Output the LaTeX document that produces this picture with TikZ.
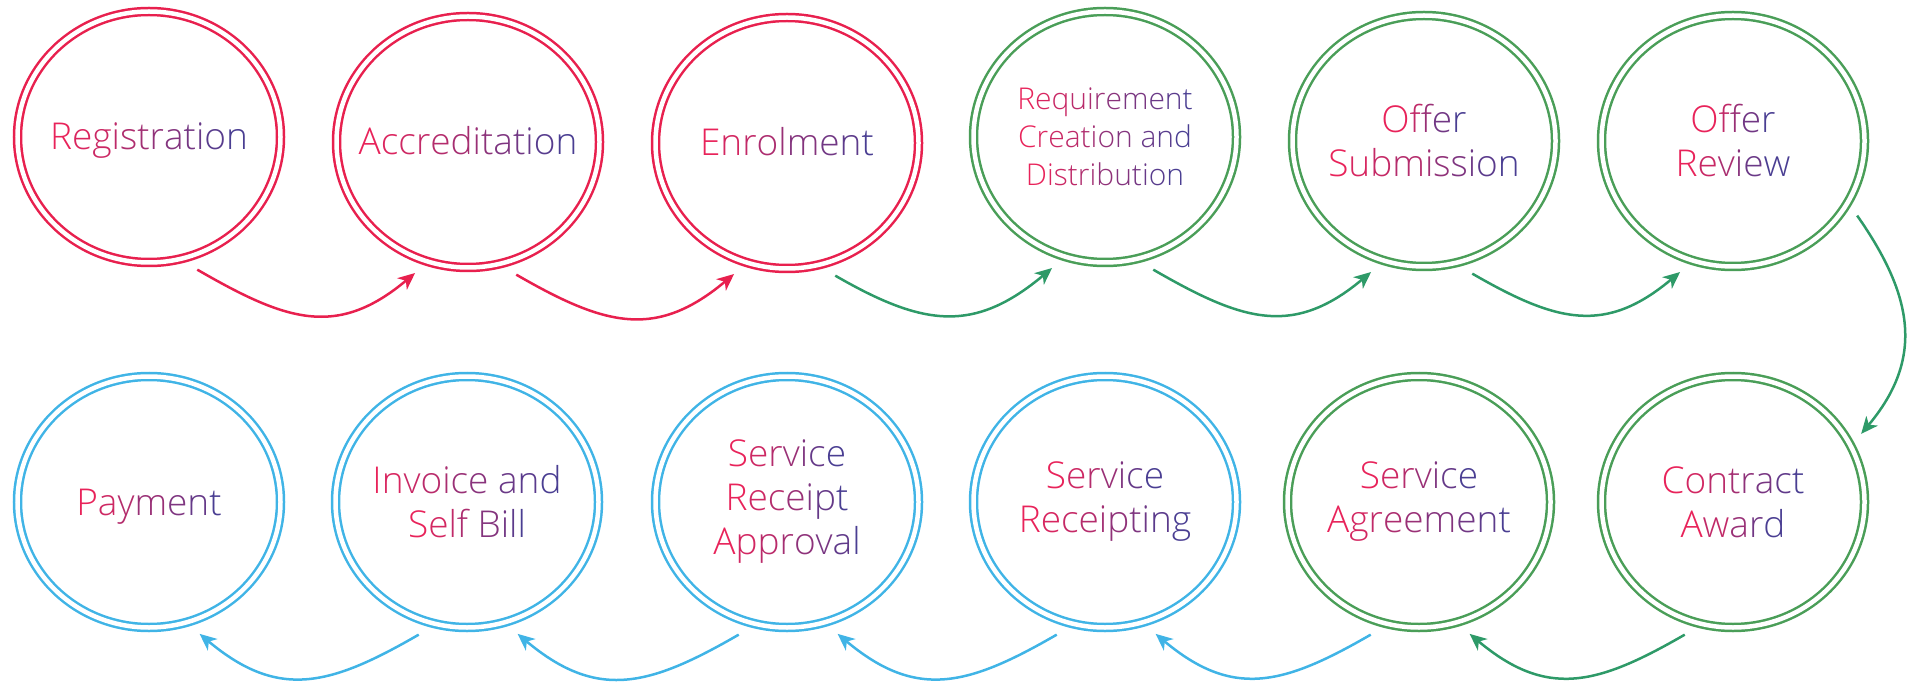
\documentclass[tikz,border=0pt]{standalone}
\usepackage{fontspec}
\IfFontExistsTF{Open Sans Light}{\setmainfont{Open Sans Light}}{\setmainfont{Open Sans}}
\usetikzlibrary{arrows.meta,shapes.geometric}

\definecolor{stagered}{HTML}{E8204E}
\definecolor{stagegreen}{HTML}{4A9E58}
\definecolor{flowgreen}{HTML}{2E9A68}
\definecolor{stageblue}{HTML}{40B4E6}
\definecolor{gradA}{HTML}{E8235A}
\definecolor{gradB}{HTML}{4A3E92}

% one line of text, coloured letter by letter from gradA to gradB
\ExplSyntaxOn
\int_new:N \l__grad_n_int
\int_new:N \l__grad_i_int
\cs_new_protected:Npn \gradline #1
  {
    \int_set:Nn \l__grad_n_int { \str_count:n {#1} - 1 }
    \int_zero:N \l__grad_i_int
    \str_map_inline:nn {#1}
      {
        \str_if_eq:nnTF {##1} { ~ }
          { \c_space_tl }
          {
            \use:x
              {
                \exp_not:N \textcolor
                  { gradB ! \int_eval:n { 100 * \l__grad_i_int / \l__grad_n_int } ! gradA }
                  { \exp_not:n {##1} }
              }
          }
        \int_incr:N \l__grad_i_int
      }
  }
\ExplSyntaxOff

\tikzset{
  stage/.style={ellipse, draw=#1, double=white, double distance=4.5pt, line width=2.5pt,
    minimum width=263pt, minimum height=251pt, inner sep=-20pt, outer sep=15pt,
    align=center, font=\fontsize{37}{44}\selectfont},
  oneline/.style={text height=26pt, text depth=0pt},
  flow/.style={draw=#1, line width=2.5pt, -{Stealth[length=17pt,width=15pt,inset=5pt]}},
}

\begin{document}
\begin{tikzpicture}[x=1pt,y=1pt]
		%%%%% START %%%%%
		\useasboundingbox (0,0) rectangle (1911,681);
		
		\node[stage=stagered, oneline] (reg) at (149,544) {\gradline{Registration}};
		\node[stage=stagered, oneline] (acc) at (468,539) {\gradline{Accreditation}};
		\node[stage=stagered, oneline] (enr) at (787,538) {\gradline{Enrolment}};
		\node[stage=stagegreen, font=\fontsize{30}{38}\selectfont] (req) at (1105,544)
			{\gradline{Requirement}\\\gradline{Creation and}\\\gradline{Distribution}};
		\node[stage=stagegreen] (offsub) at (1424,540) {\gradline{Offer}\\\gradline{Submission}};
		\node[stage=stagegreen] (offrev) at (1733,540) {\gradline{Offer}\\\gradline{Review}};
		
		\node[stage=stagegreen] (award) at (1733,179) {\gradline{Contract}\\\gradline{Award}};
		\node[stage=stagegreen] (agree) at (1419,179) {\gradline{Service}\\\gradline{Agreement}};
		\node[stage=stageblue] (rcpt) at (1105,179) {\gradline{Service}\\\gradline{Receipting}};
		\node[stage=stageblue] (rcptok) at (787,179) {\gradline{Service}\\\gradline{Receipt}\\\gradline{Approval}};
		\node[stage=stageblue] (invoice) at (467,179) {\gradline{Invoice and}\\\gradline{Self Bill}};
		\node[stage=stageblue, oneline] (pay) at (149,179) {\gradline{Payment}};
		
		\draw[flow=stagered] (reg.-70) to[out=-30, in=-140, looseness=1.2] (acc.-112);
		\draw[flow=stagered] (acc.-70) to[out=-30, in=-140, looseness=1.2] (enr.-112);
		\draw[flow=flowgreen] (enr.-70) to[out=-30, in=-140, looseness=1.2] (req.-112);
		\draw[flow=flowgreen] (req.-70) to[out=-30, in=-140, looseness=1.2] (offsub.-112);
		\draw[flow=flowgreen] (offsub.-70) to[out=-30, in=-140, looseness=1.2] (offrev.-112);
		
		\draw[flow=flowgreen] (offrev.-31) to[out=-55, in=50, looseness=1.15] (award.28);
		
		\draw[flow=flowgreen] (award.-110) to[out=-150, in=-40, looseness=1.2] (agree.-69);
		\draw[flow=stageblue] (agree.-110) to[out=-150, in=-40, looseness=1.2] (rcpt.-69);
		\draw[flow=stageblue] (rcpt.-110) to[out=-150, in=-40, looseness=1.2] (rcptok.-69);
		\draw[flow=stageblue] (rcptok.-110) to[out=-150, in=-40, looseness=1.2] (invoice.-69);
		\draw[flow=stageblue] (invoice.-110) to[out=-150, in=-40, looseness=1.2] (pay.-69);
		
		%%%%% END %%%%%
	\end{tikzpicture}
\end{document}
